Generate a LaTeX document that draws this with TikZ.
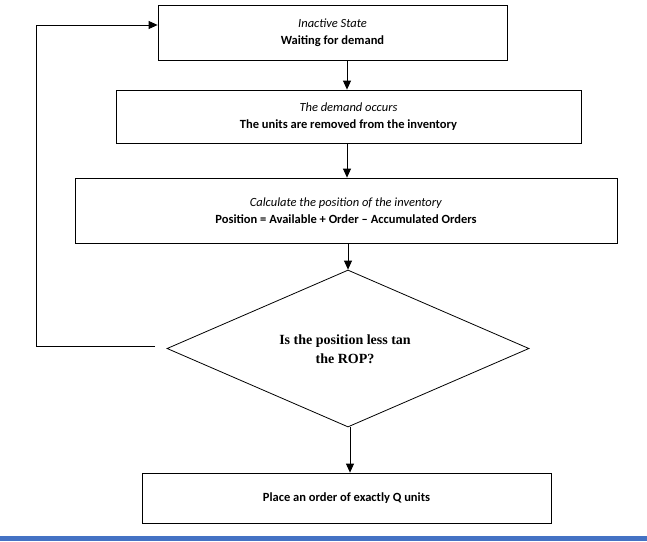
\documentclass[tikz,border=0pt]{standalone}
\usepackage{fontspec}
\setmainfont{Carlito}
\newfontfamily\serifb{Liberation Serif}
\usetikzlibrary{shapes.geometric,arrows.meta}
\definecolor{barblue}{RGB}{68,114,196}
\begin{document}
\begin{tikzpicture}[x=1pt,y=-1pt,
  box/.style={draw,line width=0.8pt,minimum height=0pt,inner sep=0pt,align=center,font=\fontsize{12.5}{17}\selectfont},
  arr/.style={line width=0.8pt,-{Triangle[length=9pt,width=8pt]}}]
\useasboundingbox (0,0) rectangle (647,541);
\fill[white] (0,0) rectangle (647,541);
\fill[barblue] (0,536) rectangle (647,541);
\node[box,minimum width=349pt,minimum height=55pt] (b1) at (332.5,32.5) {\textit{Inactive State}\\\textbf{Waiting for demand}};
\node[box,minimum width=465pt,minimum height=53pt] (b2) at (348.5,116.5) {\textit{The demand occurs}\\\textbf{The units are removed from the inventory}};
\node[box,minimum width=542pt,minimum height=65pt] (b3) at (346,210.5) {\textit{Calculate the position of the inventory}\\\textbf{Position = Available + Order -- Accumulated Orders}};
\node[draw,line width=0.8pt,diamond,minimum width=362pt,minimum height=157pt,inner sep=0pt] (d) at (348,348.5) {};
\node[font=\serifb\bfseries\fontsize{14}{19}\selectfont,align=center] (dt) at (345,349) {Is the position less tan\\the ROP?};
\node[box,minimum width=409pt,minimum height=50pt] (b4) at (346.5,498) {\textbf{Place an order of exactly Q units}};
\draw[arr] (347,60) -- (b2.north -| 347,0);
\draw[arr] (347,143) -- (b3.north -| 347,0);
\draw[arr] (348,243) -- (d.north);
\draw[arr] (350,427) -- (b4.north -| 350,0);
\coordinate (c1) at (155,346);
\coordinate (c2) at (36,346);
\coordinate (c3) at (36,25);
\draw[arr] (c1) -- (c2) -- (c3) -- (b1.west |- c3);
\end{tikzpicture}
\end{document}
